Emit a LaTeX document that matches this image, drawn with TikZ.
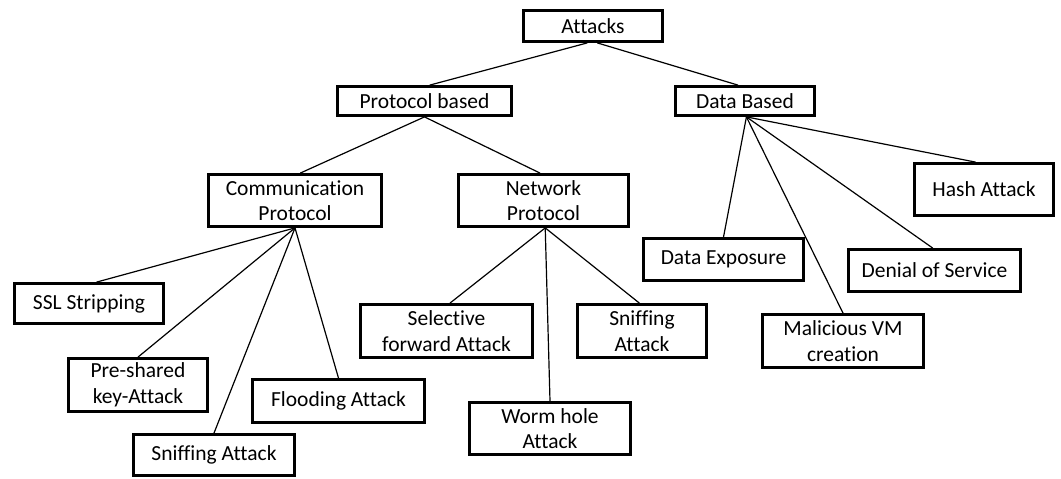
\documentclass[tikz,border=0pt]{standalone}
\usepackage{fontspec}
\setmainfont{Carlito}[Ligatures=NoCommon]
\usetikzlibrary{calc}
% points along the top / bottom edge of a box, by fraction of its width
\newcommand\tp[2]{($(#1.north west)!#2!(#1.north east)$)}
\newcommand\bt[2]{($(#1.south west)!#2!(#1.south east)$)}
\begin{document}
\begin{tikzpicture}[x=1pt,y=-1pt,
  box/.style={draw=black, line width=2.8pt, fill=white, inner sep=0pt,
    align=center, font=\fontsize{21.5}{25.5}\selectfont},
  link/.style={draw=black, line width=1.2pt}]
\useasboundingbox (0,0) rectangle (1061,479);
\fill[white] (0,0) rectangle (1061,479);

% root and first level
\node[box, minimum width=139pt, minimum height=31pt] (attacks) at (593,26) {Attacks};
\node[box, minimum width=174pt, minimum height=29pt] (proto) at (424.5,101) {Protocol based};
\node[box, minimum width=139pt, minimum height=29pt] (data) at (745,101) {Data Based};

% protocol branch
\node[box, minimum width=173pt, minimum height=52pt] (comm) at (295,200.5) {Communication\\Protocol};
\node[box, minimum width=170pt, minimum height=52pt] (net) at (543.5,200.5) {Network\\Protocol};

% communication protocol attacks
\node[box, minimum width=149pt, minimum height=40pt] (ssl) at (89,303.5) {SSL Stripping};
\node[box, minimum width=139pt, minimum height=53pt] (pre) at (138,385) {Pre-shared\\key-Attack};
\node[box, minimum width=172pt, minimum height=43pt] (flood) at (338.5,401) {Flooding Attack};
\node[box, minimum width=161pt, minimum height=41pt] (sniffc) at (214,455) {Sniffing Attack};

% network protocol attacks
\node[box, minimum width=172pt, minimum height=53pt] (sel) at (446.5,331) {Selective\\forward Attack};
\node[box, minimum width=129pt, minimum height=53pt] (sniffn) at (642,331) {Sniffing\\Attack};
\node[box, minimum width=161pt, minimum height=52pt] (worm) at (550,428.5) {Worm hole\\Attack};

% data based attacks
\node[box, minimum width=139pt, minimum height=52pt] (hash) at (984,189.5) {Hash Attack};
\node[box, minimum width=160pt, minimum height=42pt] (dexp) at (723.5,259.5) {Data Exposure};
\node[box, minimum width=172pt, minimum height=42pt] (dos) at (934.5,270.5) {Denial of Service};
\node[box, minimum width=161pt, minimum height=53pt] (mal) at (843,341) {Malicious VM\\creation};

% connectors
\draw[link] \bt{attacks}{0.46} -- \tp{proto}{0.53};
\draw[link] \bt{attacks}{0.53} -- \tp{data}{0.45};

\draw[link] (proto.south) -- \tp{comm}{0.53};
\draw[link] (proto.south) -- \tp{net}{0.48};

\draw[link] (comm.south) -- \tp{ssl}{0.55};
\draw[link] (comm.south) -- (pre.north);
\draw[link] (comm.south) -- (sniffc.north);
\draw[link] (comm.south) -- (flood.north);

\draw[link] \bt{net}{0.51} -- \tp{sel}{0.52};
\draw[link] \bt{net}{0.51} -- (worm.north);
\draw[link] \bt{net}{0.51} -- \tp{sniffn}{0.48};

\draw[link] \bt{data}{0.51} -- (dexp.north);
\draw[link] \bt{data}{0.51} -- (mal.north);
\draw[link] \bt{data}{0.51} -- \tp{dos}{0.49};
\draw[link] \bt{data}{0.51} -- \tp{hash}{0.44};
\end{tikzpicture}
\end{document}
